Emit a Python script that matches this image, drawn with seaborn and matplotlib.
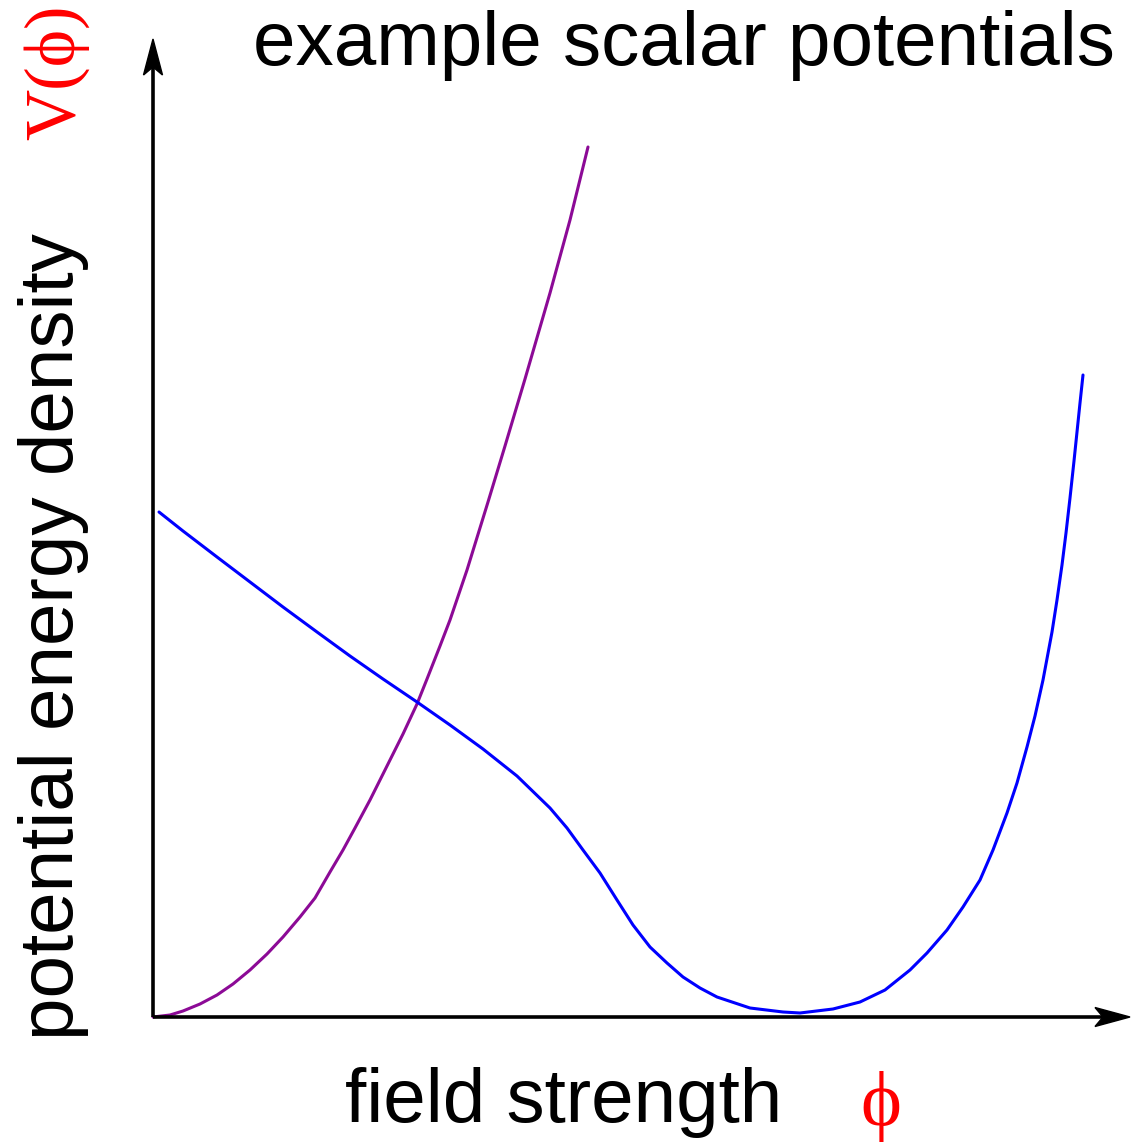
import matplotlib
matplotlib.use("Agg")
import matplotlib.pyplot as plt
import seaborn as sns
import pandas as pd
from matplotlib.patches import Polygon

# ---- data (field strength phi, potential V in arbitrary units) ----
purple_phi = [0, 17, 30, 47, 64, 80, 97, 114, 130, 147, 162, 177, 190, 202, 217,
              230, 250, 264, 274, 287, 297, 314, 335, 352, 372, 397, 417, 435]
purple_V = [0, 2, 6, 13, 22, 33, 47, 63, 80, 100, 119, 145, 167, 189, 217,
            243, 283, 313, 338, 371, 397, 447, 515, 571, 638, 724, 797, 870]

blue_phi = [6, 30, 64, 97, 130, 164, 197, 230, 264, 297, 330, 364, 397, 414, 430,
            447, 464, 480, 497, 514, 530, 547, 564, 597, 630, 647, 680, 707, 732,
            757, 774, 794, 810, 827, 840, 854, 864, 874, 882, 890, 899, 904, 909,
            913, 917, 921, 924, 927, 930]
blue_V = [505, 486, 460, 435, 410, 385, 361, 338, 315, 292, 268, 241, 209, 189, 167,
          144, 117, 92, 70, 54, 40, 29, 20, 9, 5, 4, 8, 15, 27,
          47, 64, 87, 110, 137, 167, 204, 234, 270, 301, 337, 385, 417, 452,
          484, 519, 556, 585, 614, 642]

title_text = "example scalar potentials"
xlabel_text = "field strength"
ylabel_text = "potential energy density"
x_symbol = "\u03d5"
y_symbol = "V(\u03d5)"

sns.set_theme(style="white")
plt.rcParams["font.family"] = ["Liberation Sans", "DejaVu Sans"]

W, H = 1131, 1146
fig = plt.figure(figsize=(W / 100, H / 100), dpi=100)
ax = fig.add_axes([0, 0, 1, 1])
ax.set_xlim(-153, 978)
ax.set_ylim(-129, 1017)
ax.axis("off")

purple_df = pd.DataFrame({"phi": purple_phi, "V": purple_V})
blue_df = pd.DataFrame({"phi": blue_phi, "V": blue_V})

sns.lineplot(data=purple_df, x="phi", y="V", sort=False, estimator=None,
             color="#8c0a96", lw=2.2, ax=ax, solid_joinstyle="round")
sns.lineplot(data=blue_df, x="phi", y="V", sort=False, estimator=None,
             color="#0000ff", lw=2.2, ax=ax, solid_joinstyle="round")

# axes with arrows
ax.plot([0, 950], [0, 0], color="black", lw=2.6, solid_capstyle="butt", zorder=3)
ax.plot([0, 0], [0, 950], color="black", lw=2.6, solid_capstyle="butt", zorder=3)
ax.add_patch(Polygon([(977, 0), (942, 9.5), (950, 0), (942, -9.5)],
                     closed=True, color="black", zorder=4))
ax.add_patch(Polygon([(0, 978), (-9.5, 942), (0, 950), (9.5, 942)],
                     closed=True, color="black", zorder=4))

# texts
ax.text(100, 952, title_text, ha="left", va="baseline", fontsize=55,
        color="black")
ax.text(192, -105, xlabel_text, ha="left", va="baseline", fontsize=55,
        color="black")
ax.text(-80, -23, ylabel_text, ha="left", va="baseline", fontsize=55,
        color="black", rotation=90, rotation_mode="anchor")
ax.text(728, -108, x_symbol, ha="center", va="baseline", fontsize=56,
        color="#ff0000", family=["Liberation Serif", "DejaVu Serif"])
ax.text(-79, 877, y_symbol, ha="left", va="baseline", fontsize=51,
        color="#ff0000", family=["Liberation Serif", "DejaVu Serif"],
        rotation=90, rotation_mode="anchor")

fig.savefig("out.png", dpi=100, facecolor="white")
